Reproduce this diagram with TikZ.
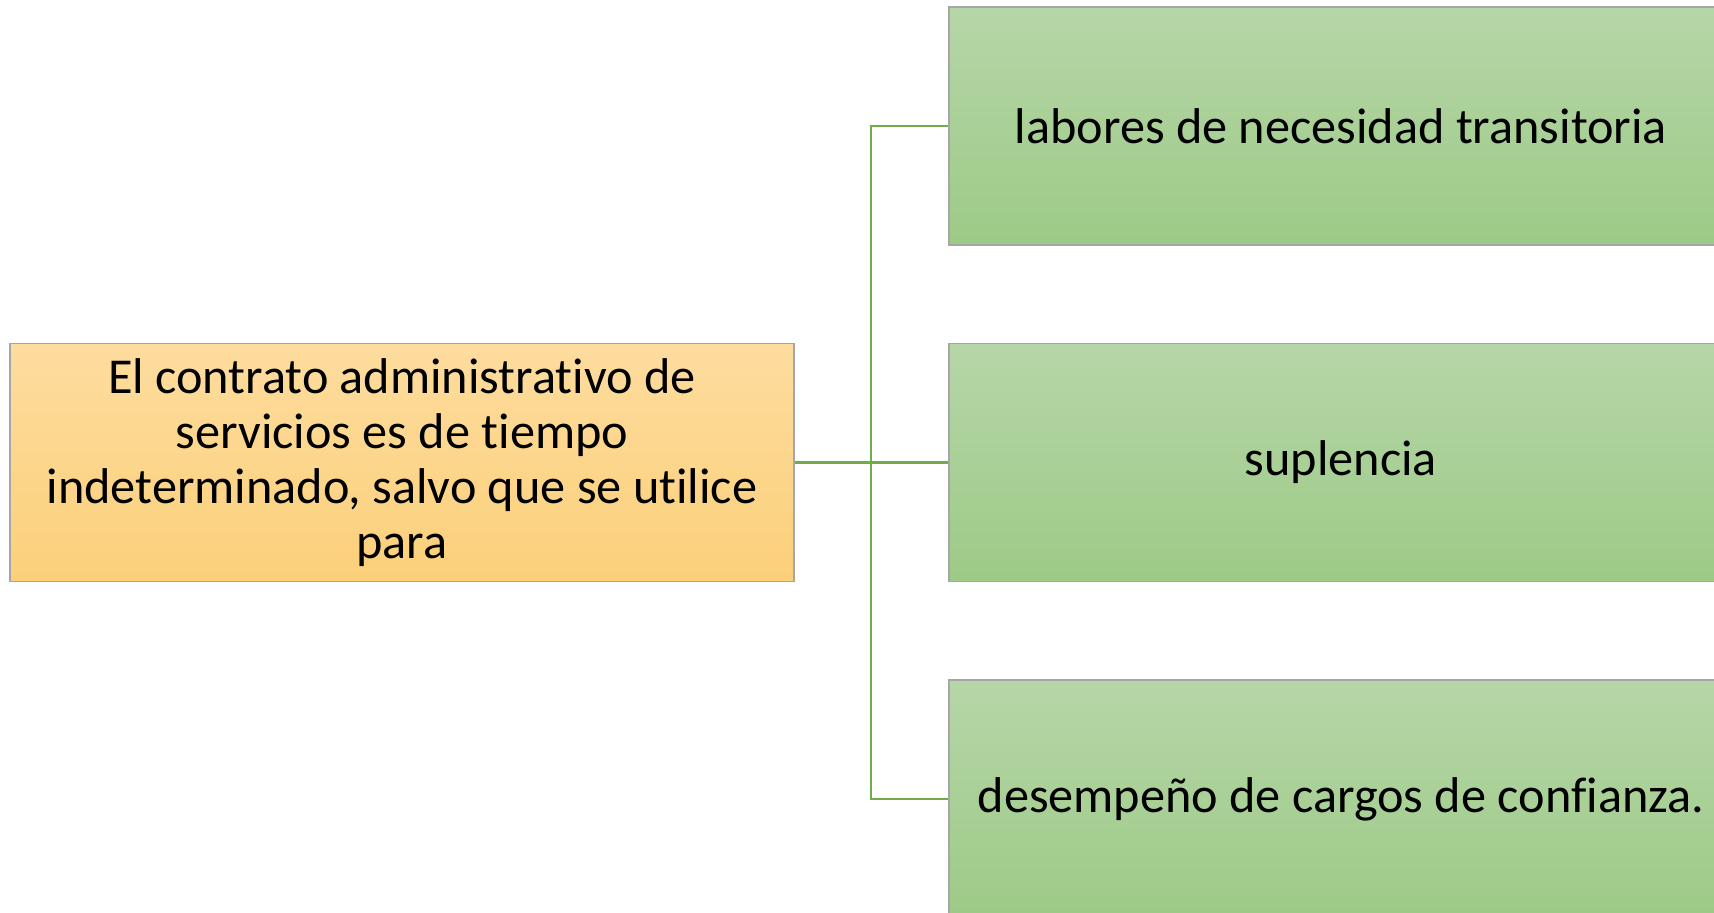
\documentclass[tikz,border=0pt]{standalone}
\usepackage{fontspec}
\setmainfont{Carlito}[Ligatures=NoCommon]
\usetikzlibrary{calc}
\definecolor{linkgreen}{HTML}{70AD47}
\definecolor{ortop}{HTML}{FDDC9E}
\definecolor{orbot}{HTML}{FCD07A}
\definecolor{grtop}{HTML}{B6D6A8}
\definecolor{grbot}{HTML}{9DCA87}

\begin{document}
\begin{tikzpicture}[
  box/.style={draw=black!35, line width=0.5pt, minimum width=7.84cm, minimum height=2.38cm,
    align=center, inner sep=0pt, font=\fontsize{14.3}{15.6}\selectfont},
  causebox/.style={box, top color=ortop, bottom color=orbot},
  kindbox/.style={box, top color=grtop, bottom color=grbot},
  link/.style={draw=linkgreen, line width=0.6pt}
 ]
 \useasboundingbox (0,0) rectangle (17.14,9.13);

 \begin{scope}
  \node[causebox] (contrato) at (4.02,4.505)
   {El contrato administrativo de\\servicios es de tiempo\\indeterminado, salvo que se utilice\\para};

  \node[kindbox] (labores) at (13.41,7.87) {labores de necesidad transitoria};
  \node[kindbox] (suplencia) at (13.41,4.505) {suplencia};
  \node[kindbox] (confianza) at (13.41,1.14) {desempeño de cargos de confianza.};

  % tronco y ramas
  \coordinate (split) at (8.71,4.505);
  \draw[link] (contrato.east) -- (suplencia.west);
  \draw[link] (split) |- (labores.west);
  \draw[link] (split) |- (confianza.west);
 \end{scope}

\end{tikzpicture}
\end{document}
